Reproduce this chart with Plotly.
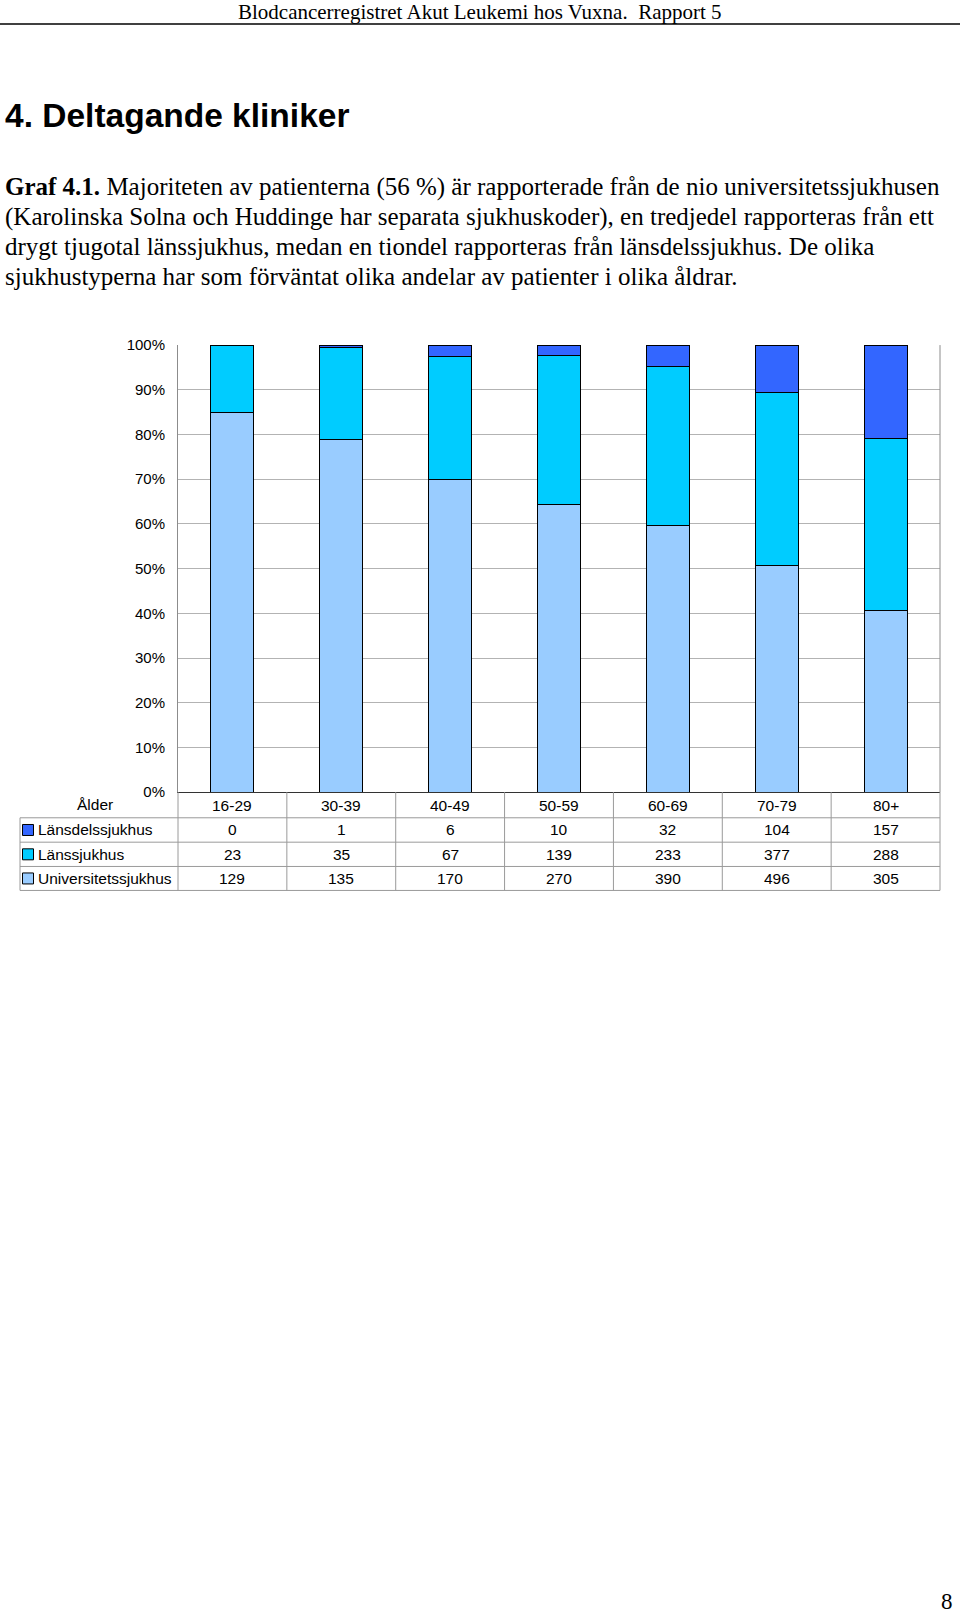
import plotly.graph_objects as go

PAGE_W, PAGE_H = 960, 1613
V_INSET = 8  # observed vertical inset of the paper area
FW, FH = PAGE_W, PAGE_H

categories = ['16-29', '30-39', '40-49', '50-59', '60-69', '70-79', '80+']
lansdelssjukhus = [0, 1, 6, 10, 32, 104, 157]
lanssjukhus = [23, 35, 67, 139, 233, 377, 288]
universitetssjukhus = [129, 135, 170, 270, 390, 496, 305]
y_ticks = [0, 10, 20, 30, 40, 50, 60, 70, 80, 90, 100]

series = [
    ('Universitetssjukhus', universitetssjukhus, '#99CCFF'),
    ('Länssjukhus', lanssjukhus, '#00CCFF'),
    ('Länsdelssjukhus', lansdelssjukhus, '#3366FF'),
]
table_rows = [series[2], series[1], series[0]]

header_text = 'Blodcancerregistret Akut Leukemi hos Vuxna.&nbsp; Rapport 5'
title_text = '4. Deltagande kliniker'
paragraph_lines = [
    '<b>Graf 4.1.</b> Majoriteten av patienterna (56 %) är rapporterade från de nio universitetssjukhusen',
    '(Karolinska Solna och Huddinge har separata sjukhuskoder), en tredjedel rapporteras från ett',
    'drygt tjugotal länssjukhus, medan en tiondel rapporteras från länsdelssjukhus. De olika',
    'sjukhustyperna har som förväntat olika andelar av patienter i olika åldrar.',
]
page_number = '8'


def px(x):
    return x / FW


def py(y):
    return 1 - (y - V_INSET) / (FH - 2 * V_INSET)


SERIF = 'Liberation Serif, Times New Roman, serif'
SANS = 'Liberation Sans, Arial, sans-serif'

# plot geometry (page pixels)
X0, X1 = 178, 940
Y_TOP, Y_BOT = 344.3, 791.7
ROW_LINES = [Y_BOT, 817.3, 841.7, 866.0, 890.0]
TABLE_LEFT = 20

fig = go.Figure()
for name, vals, col in series:
    fig.add_trace(go.Bar(
        x=categories, y=vals, name=name,
        marker=dict(color=col, line=dict(color='#000000', width=1)),
        width=0.395, showlegend=False,
    ))

shapes = []
annotations = []

# header
annotations.append(dict(text=header_text, x=px(480), y=py(11.5), xref='paper', yref='paper',
                        showarrow=False, xanchor='center', yanchor='middle',
                        font=dict(family=SERIF, size=21, color='black')))
shapes.append(dict(type='line', xref='paper', yref='paper', x0=0, x1=1, y0=py(23), y1=py(23),
                   line=dict(color='black', width=1.5)))
# title
annotations.append(dict(text='<b>' + title_text + '</b>', x=px(3), y=py(115), xref='paper', yref='paper',
                        showarrow=False, xanchor='left', yanchor='middle',
                        font=dict(family=SANS, size=33.5, color='black')))
# paragraph
line_y = [186.5, 216.3, 246.0, 275.8]
for t, yy in zip(paragraph_lines, line_y):
    annotations.append(dict(text=t, x=px(3), y=py(yy), xref='paper', yref='paper',
                            showarrow=False, xanchor='left', yanchor='middle',
                            font=dict(family=SERIF, size=25, color='black')))
# page number
annotations.append(dict(text=page_number, x=px(955), y=py(1601), xref='paper', yref='paper',
                        showarrow=False, xanchor='right', yanchor='middle',
                        font=dict(family=SERIF, size=23, color='black')))

# plot right border
shapes.append(dict(type='line', xref='paper', yref='paper', x0=px(X1), x1=px(X1),
                   y0=py(Y_TOP), y1=py(Y_BOT), line=dict(color='#8c8c8c', width=1)))

# table grid
GRID = '#9a9a9a'
for yy in ROW_LINES[1:]:
    shapes.append(dict(type='line', xref='paper', yref='paper', x0=px(TABLE_LEFT), x1=px(X1),
                       y0=py(yy), y1=py(yy), line=dict(color=GRID, width=1)))
shapes.append(dict(type='line', xref='paper', yref='paper', x0=px(TABLE_LEFT), x1=px(TABLE_LEFT),
                   y0=py(ROW_LINES[1]), y1=py(ROW_LINES[-1]), line=dict(color=GRID, width=1)))
ncat = len(categories)
for k in range(ncat + 1):
    xx = X0 + (X1 - X0) * k / ncat
    shapes.append(dict(type='line', xref='paper', yref='paper', x0=px(xx), x1=px(xx),
                       y0=py(ROW_LINES[0]), y1=py(ROW_LINES[-1]), line=dict(color=GRID, width=1)))

# table header row
header_y = (ROW_LINES[0] + ROW_LINES[1]) / 2
annotations.append(dict(text='Ålder', x=px(95), y=py(header_y - 1), xref='paper', yref='paper',
                        showarrow=False, xanchor='center', yanchor='middle',
                        font=dict(family=SANS, size=15.5, color='black')))
for c in categories:
    annotations.append(dict(text=c, x=c, y=py(header_y), xref='x', yref='paper',
                            showarrow=False, xanchor='center', yanchor='middle',
                            font=dict(family=SANS, size=15.5, color='black')))

# table data rows
for r, (name, vals, col) in enumerate(table_rows):
    yc = (ROW_LINES[r + 1] + ROW_LINES[r + 2]) / 2
    shapes.append(dict(type='rect', xref='paper', yref='paper', x0=px(22.5), x1=px(33.5),
                       y0=py(yc - 5.5), y1=py(yc + 5.5), fillcolor=col,
                       line=dict(color='black', width=1)))
    annotations.append(dict(text=name, x=px(36), y=py(yc), xref='paper', yref='paper',
                            showarrow=False, xanchor='left', yanchor='middle',
                            font=dict(family=SANS, size=15.5, color='black')))
    for c, v in zip(categories, vals):
        annotations.append(dict(text=str(v), x=c, y=py(yc), xref='x', yref='paper',
                                showarrow=False, xanchor='center', yanchor='middle',
                                font=dict(family=SANS, size=15.5, color='black')))

fig.update_layout(
    width=FW, height=FH,
    margin=dict(l=0, r=0, t=0, b=0, pad=0),
    paper_bgcolor='white', plot_bgcolor='white',
    barmode='stack', barnorm='percent',
    xaxis=dict(domain=[px(X0), px(X1)], showticklabels=False, showgrid=False,
               showline=True, linecolor='#333333', linewidth=1, ticks='', zeroline=False,
               fixedrange=True),
    yaxis=dict(domain=[py(Y_BOT), py(Y_TOP)], range=[0, 100], tickmode='array',
               tickvals=y_ticks, ticktext=[f'{v}%' for v in y_ticks],
               showgrid=True, gridcolor='#b3b3b3', gridwidth=1,
               showline=True, linecolor='#8c8c8c', linewidth=1, zeroline=False,
               ticks='outside', ticklen=9, tickcolor='rgba(0,0,0,0)',
               tickfont=dict(family=SANS, size=15, color='black'), fixedrange=True),
    shapes=shapes, annotations=annotations,
    showlegend=False,
)

fig.write_html('out.html', config={'displayModeBar': False},
               post_script="document.body.style.margin='0';")
